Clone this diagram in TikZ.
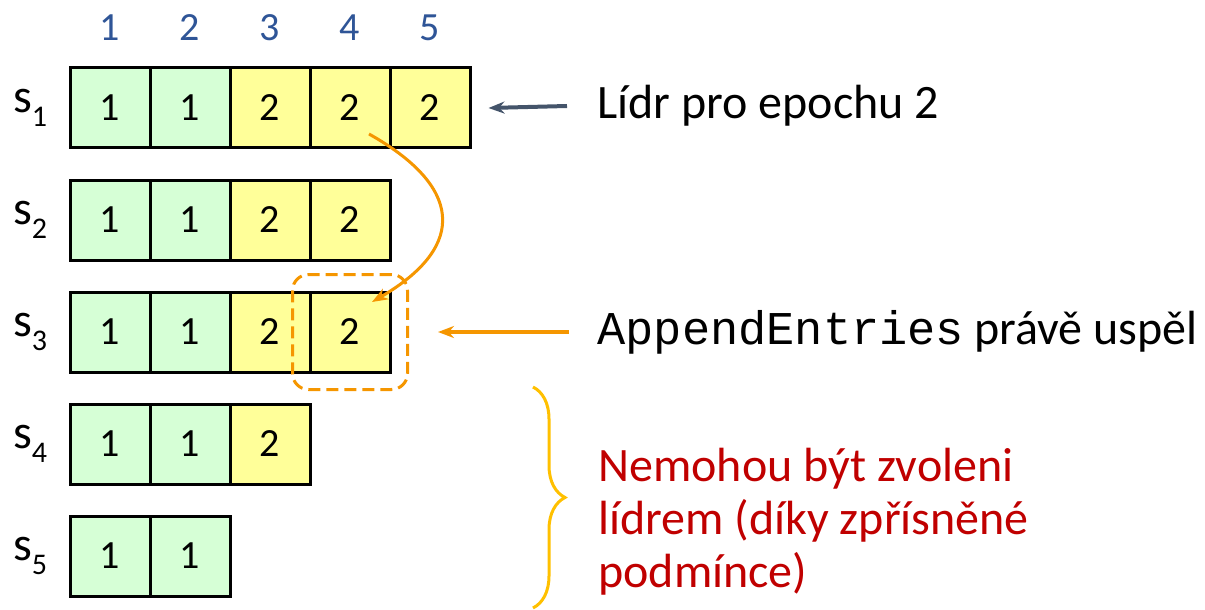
\documentclass[tikz,border=0pt]{standalone}
\usepackage{fontspec}
\setmainfont{Carlito}
\setmonofont{Liberation Mono}
\usetikzlibrary{arrows.meta, decorations.pathreplacing, fit}

\definecolor{termgreen}{RGB}{214,255,214}
\definecolor{termyellow}{RGB}{255,255,153}
\definecolor{idxblue}{RGB}{47,85,151}
\definecolor{leadgray}{RGB}{68,84,106}
\definecolor{rpcorange}{RGB}{245,150,0}
\definecolor{bracegold}{RGB}{255,192,0}
\definecolor{warnred}{RGB}{192,0,0}

\tikzset{
  entry/.style={draw, line width=1.5pt, minimum size=40pt, inner sep=0pt,
    font=\fontsize{20}{20}\selectfont},
  t1/.style={entry, fill=termgreen},
  t2/.style={entry, fill=termyellow},
  lbl/.style={anchor=west, inner sep=0pt, font=\fontsize{24}{26.5}\selectfont},
  ptr/.style={-{Stealth[length=8pt, width=6pt]}, line width=2pt},
}

\begin{document}
\begin{tikzpicture}[x=0.5pt, y=-0.5pt]
  \useasboundingbox (0,0) rectangle (1205,610);
  \foreach \i in {1,...,5}
    \node[text=idxblue, font=\fontsize{20}{20}\selectfont] (idx\i) at (30+80*\i, 28) {\i};
  \foreach \r/\terms in {1/{1,1,2,2,2}, 2/{1,1,2,2}, 3/{1,1,2,2}, 4/{1,1,2}, 5/{1,1}} {
    \node[font=\fontsize{24}{24}\selectfont] (s\r) at (30, -4+112*\r)
      {s\raisebox{-0.3em}{\fontsize{15}{15}\selectfont\r}};
    \foreach \t [count=\c] in \terms
      \node[t\t] (c\r-\c) at (30+80*\c, -4+112*\r) {\t};
  }

  \node[lbl] (lead) at (597,106) {Lídr pro epochu 2};
  \draw[ptr, leadgray] ([xshift=-15pt]lead.west) -- ([xshift=8.5pt]c1-5.east);

  \node[fit=(c3-4), inner sep=8pt, draw=rpcorange, line width=1.5pt,
    dash pattern=on 6pt off 3pt, rounded corners=8pt] (sent) {};
  \node[lbl] (rpc) at (597,332) {{\fontsize{23.5}{26}\selectfont\ttfamily AppendEntries}\hspace{5pt}právě uspěl};
  \draw[ptr, rpcorange] ([xshift=-14pt]rpc.west) -- ([xshift=14.5pt]sent.east);

  \coordinate (from) at ([shift={(19,26)}]c1-4.center);
  \coordinate (to) at ([shift={(22,-30)}]c3-4.center);
  \draw[ptr, rpcorange, line width=1.5pt] (from) .. controls (460,185) and (470,245) .. (to);

  \draw[bracegold, line width=1.5pt, decorate,
    decoration={brace, amplitude=16pt}] (533,387) -- (533,608);
  \node[lbl, text=warnred, align=left] (note) at (598,522)
    {Nemohou být zvoleni\\lídrem (díky zpřísněné\\podmínce)};
\end{tikzpicture}
\end{document}
